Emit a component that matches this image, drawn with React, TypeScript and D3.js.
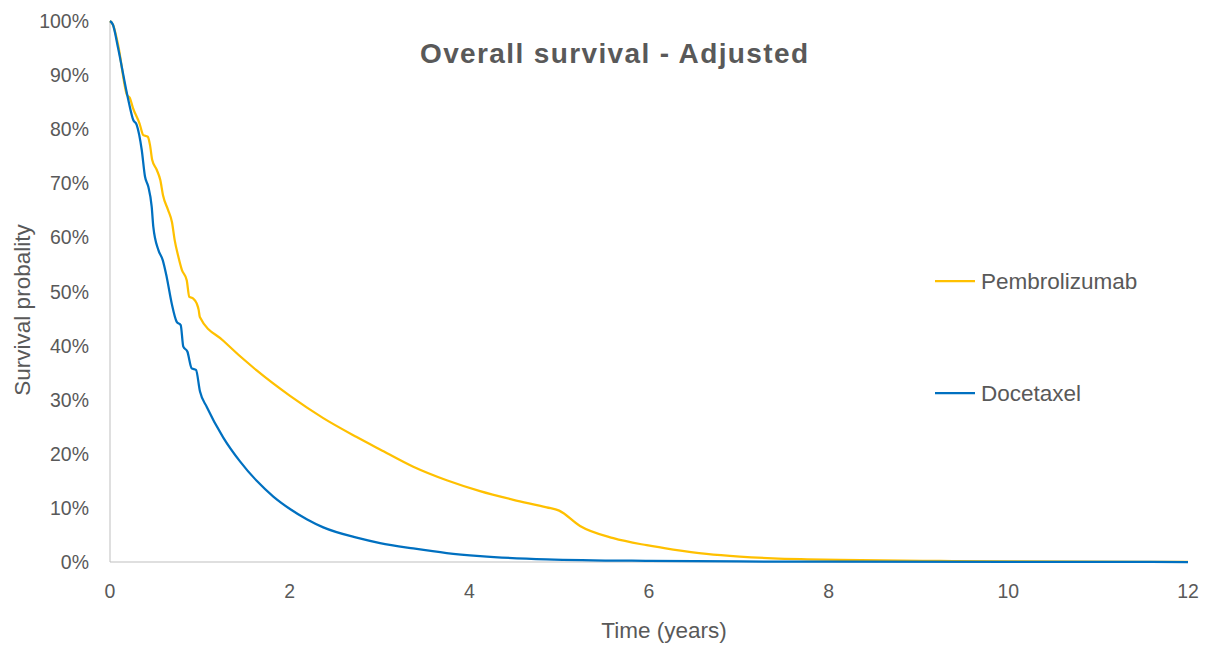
import React from "react";
import * as d3 from "d3";

const pembroT = [0, 0.033, 0.09, 0.19, 0.22, 0.256, 0.33, 0.37, 0.42, 0.445, 0.47, 0.52, 0.56, 0.59, 0.646, 0.69, 0.72, 0.757, 0.8, 0.854, 0.883, 0.927, 0.965, 0.987, 1.0, 1.261, 1.633, 2.004, 2.374, 2.746, 3.006, 3.376, 3.748, 4.119, 4.49, 4.861, 5.0, 5.232, 5.603, 5.975, 6.27, 6.64, 7.01, 7.38, 7.76, 8.13, 9.24, 10, 12];
const pembroS = [100, 99.3, 95.6, 86.3, 85.8, 83.9, 81, 78.9, 78.6, 77.1, 74.3, 72.5, 70.6, 67.8, 65.1, 62.8, 59.5, 56.7, 54, 52.1, 49, 48.7, 47.8, 46.6, 45.3, 40.9, 35.4, 30.7, 26.6, 23.1, 20.8, 17.6, 15.1, 13.1, 11.5, 10.1, 9.5, 6.65, 4.4, 3.1, 2.3, 1.5, 1.0, 0.68, 0.5, 0.37, 0.2, 0.1, 0.03];

const doceT = [0, 0.033, 0.09, 0.204, 0.259, 0.297, 0.353, 0.39, 0.426, 0.464, 0.482, 0.538, 0.587, 0.631, 0.687, 0.743, 0.787, 0.816, 0.861, 0.909, 0.957, 1.002, 1.076, 1.261, 1.447, 1.633, 1.818, 2.004, 2.19, 2.374, 2.746, 3.006, 3.376, 3.748, 4.12, 4.86, 6, 7, 8, 12];
const doceS = [100, 99.3, 95, 85.4, 81.7, 80.8, 76.2, 71.2, 69.4, 65.7, 62, 57.7, 55.8, 52.7, 47.8, 44.4, 43.8, 39.8, 38.9, 35.8, 35.5, 31.5, 28.7, 23.0, 18.6, 15.0, 12.1, 9.8, 7.9, 6.4, 4.5, 3.5, 2.5, 1.65, 1.1, 0.5, 0.2, 0.1, 0.05, 0];

const xTicks = [0, 2, 4, 6, 8, 10, 12];
const yTicks = [0, 10, 20, 30, 40, 50, 60, 70, 80, 90, 100];

const seriesNames = ["Pembrolizumab", "Docetaxel"];
const seriesColors = ["#FFC000", "#0070C0"];

export default function App() {
  const W = 1211, H = 645;
  const x = d3.scaleLinear().domain([0, 12]).range([110, 1188]);
  const y = d3.scaleLinear().domain([0, 100]).range([562, 21]);
  const line = d3
    .line<[number, number]>()
    .x((d) => x(d[0]))
    .y((d) => y(d[1]))
    .curve(d3.curveMonotoneX);
  const series = [
    pembroT.map((t, i) => [t, pembroS[i]] as [number, number]),
    doceT.map((t, i) => [t, doceS[i]] as [number, number]),
  ];
  const font = "'Liberation Sans', Arial, sans-serif";
  const gray = "#595959";
  const legendY = [281, 393];
  return (
    <svg
      width={W}
      height={H}
      style={{ position: "absolute", left: 0, top: 0, background: "#fff" }}
      fontFamily={font}
    >
      <rect width={W} height={H} fill="#fff" />
      <text
        x={420}
        y={63}
        fontSize={28}
        fontWeight="bold"
        fill={gray}
        textLength={388}
        lengthAdjust="spacing"
      >
        Overall survival - Adjusted
      </text>
      {yTicks.map((v) => (
        <text
          key={v}
          transform={`translate(89,${y(v) + 7}) scale(0.95,1)`}
          textAnchor="end"
          fontSize={20.5}
          fill={gray}
        >
          {v}%
        </text>
      ))}
      {xTicks.map((v) => (
        <text
          key={v}
          transform={`translate(${x(v)},598) scale(0.95,1)`}
          textAnchor="middle"
          fontSize={20.5}
          fill={gray}
        >
          {v}
        </text>
      ))}
      <line x1={x(0)} x2={x(0)} y1={y(100)} y2={y(0)} stroke="#BFBFBF" strokeWidth={1} />
      <line x1={x(0)} x2={x(12)} y1={y(0)} y2={y(0)} stroke="#BFBFBF" strokeWidth={1} />
      <text x={664} y={638} textAnchor="middle" fontSize={22.5} fill={gray}>
        Time (years)
      </text>
      <text
        transform={`translate(30,310) rotate(-90)`}
        textAnchor="middle"
        fontSize={22.5}
        fill={gray}
      >
        Survival probality
      </text>
      {series.map((s, i) => (
        <path
          key={i}
          d={line(s) || ""}
          fill="none"
          stroke={seriesColors[i]}
          strokeWidth={2.25}
          strokeLinejoin="round"
        />
      ))}
      {seriesNames.map((n, i) => (
        <g key={n}>
          <line x1={935} x2={975} y1={legendY[i]} y2={legendY[i]} stroke={seriesColors[i]} strokeWidth={2.25} />
          <text x={981} y={legendY[i] + 8} fontSize={22.5} fill={gray}>
            {n}
          </text>
        </g>
      ))}
    </svg>
  );
}
